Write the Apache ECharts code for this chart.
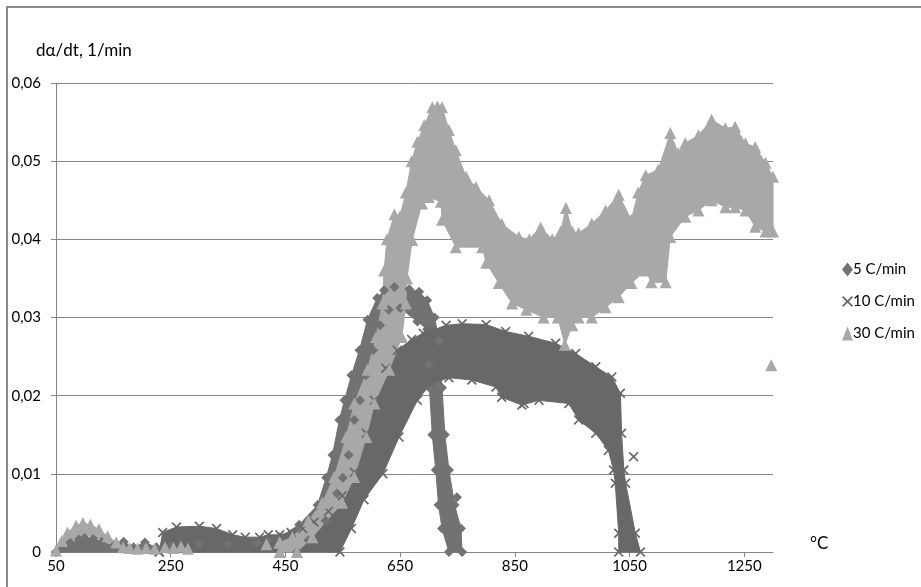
<!DOCTYPE html>
<html>
<head>
<meta charset="utf-8">
<script src="https://cdn.jsdelivr.net/npm/echarts@6/dist/echarts.min.js"></script>
<style>html,body{margin:0;padding:0;background:#fff}#c{width:921px;height:587px}</style>
</head>
<body>
<div id="c"></div>
<script>
// ---- data ----
const seriesNames = ['5 C/min', '10 C/min', '30 C/min'];
const xTicks = [50, 250, 450, 650, 850, 1050, 1250];
const yTicks = [0, 0.01, 0.02, 0.03, 0.04, 0.05, 0.06];

// 5 C/min : outline of the dense band of diamonds
const r5Upper = [[50,0],[62,0.0005],[75,0.0012],[90,0.0016],[100,0.0018],[115,0.0017],[130,0.0013],[150,0.0008],[168,0.0013],[185,0.0006],[205,0.0012],[225,0.0006],[250,0.0008],[300,0.0010],[350,0.0010],[400,0.0012],[420,0.0015],[440,0.0019],[474,0.0035],[506,0.0060],[521,0.0095],[532,0.0124],[544,0.0169],[553,0.0194],[565,0.0226],[579,0.0258],[593,0.0297],[610,0.0325],[622,0.0335],[640,0.0339],[666,0.0336],[683,0.0333],[697,0.0322],[710,0.0300],[718,0.0270],[723,0.0210],[728,0.0150],[735,0.0105],[745,0.0060],[756,0.0030],[758,0]];
const r5Lower = [[50,0],[470,0],[490,0.0015],[520,0.0040],[540,0.0075],[550,0.0095],[560,0.0124],[570,0.0169],[580,0.0194],[590,0.0226],[603,0.0258],[615,0.0290],[630,0.0310],[650,0.0312],[680,0.0295],[697,0.0285],[700,0.0240],[701,0.0210],[706,0.0150],[712,0.0105],[717,0.0060],[723,0.0030],[735,0]];
const r5Single = [[749,0.0070]];

// 10 C/min : outline of the dense band of crosses
const r10Upper = [[230,0],[236,0.0025],[260,0.0032],[300,0.0033],[330,0.0030],[358,0.0022],[380,0.0019],[405,0.0019],[420,0.0022],[440,0.0022],[460,0.0025],[480,0.0030],[500,0.0038],[525,0.0052],[549,0.0072],[570,0.0102],[591,0.0152],[605,0.0194],[625,0.0235],[645,0.0258],[670,0.0272],[690,0.0280],[700,0.0282],[730,0.0290],[758,0.0292],[800,0.0291],[834,0.0282],[874,0.0276],[921,0.0267],[956,0.0254],[991,0.0237],[1019,0.0224],[1034,0.0203],[1036,0.0152],[1040,0.0105],[1043,0.0088],[1060,0.0024],[1069,0]];
const r10Lower = [[230,0],[545,0],[565,0.0030],[587,0.0067],[620,0.0100],[648,0.0147],[680,0.0194],[703,0.0215],[735,0.0223],[775,0.0220],[817,0.0211],[827,0.0198],[862,0.0188],[892,0.0194],[944,0.0190],[961,0.0169],[991,0.0152],[1013,0.0130],[1022,0.0105],[1025,0.0088],[1031,0.0024],[1031,0]];
const r10Single = [[866,0.0190],[1057,0.0122]];

// 30 C/min : outline of the dense band of triangles
const r30HumpUpper = [[50,0.0002],[60,0.0014],[70,0.0025],[85,0.0034],[97,0.0037],[110,0.0035],[125,0.0029],[140,0.0020],[155,0.0012],[167,0.0006]];
const r30HumpLower = [[50,0],[58,0.0003],[75,0.0014],[97,0.0021],[115,0.0020],[135,0.0014],[150,0.0009],[167,0.0004]];
const r30Upper = [[440,0.0012],[462,0.0019],[490,0.0040],[514,0.0063],[535,0.0096],[556,0.0147],[570,0.0190],[593,0.0233],[608,0.0275],[619,0.0318],[622,0.0360],[627,0.0400],[640,0.0432],[650,0.0430],[660,0.0460],[670,0.0500],[680,0.0525],[692,0.0546],[706,0.0569],[715,0.0570],[723,0.0569],[735,0.0540],[747,0.0514],[765,0.0480],[782,0.0467],[805,0.0450],[827,0.0420],[857,0.0403],[875,0.0400],[895,0.0415],[915,0.0400],[930,0.0410],[939,0.0440],[950,0.0410],[961,0.0408],[984,0.0420],[1008,0.0437],[1031,0.0457],[1053,0.0425],[1065,0.0460],[1078,0.0482],[1100,0.0489],[1121,0.0536],[1135,0.0510],[1147,0.0523],[1170,0.0533],[1193,0.0553],[1217,0.0542],[1234,0.0544],[1252,0.0523],[1269,0.0518],[1287,0.0498],[1300,0.0480]];
const r30Lower = [[440,0],[470,0],[497,0.0019],[549,0.0063],[570,0.0096],[591,0.0147],[605,0.0190],[631,0.0233],[653,0.0275],[660,0.0318],[662,0.0350],[671,0.0399],[688,0.0446],[700,0.0454],[721,0.0448],[723,0.0425],[747,0.0390],[793,0.0390],[800,0.0370],[822,0.0344],[845,0.0318],[870,0.0310],[900,0.0300],[925,0.0300],[937,0.0265],[950,0.0290],[961,0.0300],[984,0.0300],[1008,0.0313],[1031,0.0326],[1053,0.0344],[1078,0.0360],[1088,0.0345],[1113,0.0345],[1121,0.0403],[1147,0.0429],[1170,0.0437],[1193,0.0450],[1217,0.0441],[1234,0.0441],[1252,0.0437],[1269,0.0416],[1287,0.0410],[1300,0.0410]];
const r30Single = [[178,0.0005],[192,0.0004],[207,0.0005],[222,0.0004],[240,0.0006],[255,0.0005],[268,0.0007],[280,0.0004],[417,0.0010],[440,0.0012],[1297,0.0239]];

// ---- styles ----
const colors = ['#727272', '#686868', '#a8a8a8'];
const FONT = 'Lato';
const crossPath = 'path://M1.2,0 L5,3.8 L8.8,0 L10,1.2 L6.2,5 L10,8.8 L8.8,10 L5,6.2 L1.2,10 L0,8.8 L3.8,5 L0,1.2 Z';

function band(name, upper, lower, color) {
  return {
    type: 'custom', name: name, silent: true, clip: false,
    data: [[upper[0][0], upper[0][1]]],
    renderItem: function (params, api) {
      const pts = upper.map(p => api.coord(p)).concat(lower.slice().reverse().map(p => api.coord(p)));
      return { type: 'polygon', shape: { points: pts }, style: { fill: color, stroke: color, lineWidth: 1 } };
    }
  };
}
function dots(name, symbol, size, pts, color) {
  return {
    type: 'scatter', name: name, symbol: symbol, symbolSize: size, clip: false,
    itemStyle: { color: color, opacity: 1 }, data: pts, silent: true
  };
}

const chart = echarts.init(document.getElementById('c'), null, { renderer: 'canvas' });
chart.setOption({
  animation: false,
  backgroundColor: '#fff',
  textStyle: { fontFamily: FONT },
  grid: { left: 56, right: 148, top: 83, bottom: 35 },
  legend: {
    orient: 'vertical', left: 837, top: 257, itemGap: 17, itemWidth: 11, itemHeight: 14,
    data: seriesNames.map(n => ({ name: n })),
    textStyle: { fontFamily: FONT, fontSize: 15, color: '#000', padding: [0, 0, 0, -5] },
    selectedMode: false
  },
  xAxis: {
    type: 'value', min: xTicks[0], max: 1300, interval: xTicks[1] - xTicks[0],
    axisLine: { show: true, onZero: false, lineStyle: { color: '#868686', width: 1 } },
    axisTick: { show: true, length: 5, lineStyle: { color: '#868686' } },
    axisLabel: { showMaxLabel: false, color: '#000', fontSize: 15, fontFamily: FONT, margin: 7, formatter: v => String(v) },
    splitLine: { show: false }
  },
  yAxis: {
    type: 'value', min: yTicks[0], max: yTicks[yTicks.length - 1], interval: yTicks[1] - yTicks[0],
    axisLine: { show: true, lineStyle: { color: '#868686', width: 1 } },
    axisTick: { show: true, length: 5, lineStyle: { color: '#868686' } },
    axisLabel: {
      color: '#000', fontSize: 15, fontFamily: FONT, margin: 15,
      formatter: v => (Math.abs(v) < 1e-9 ? '0' : v.toFixed(2).replace('.', ','))
    },
    splitLine: { show: true, lineStyle: { color: '#868686', width: 1 } }
  },
  graphic: [
    { type: 'rect', shape: { x: 7, y: 7, width: 960, height: 640 }, style: { fill: 'none', stroke: '#8a8a8a', lineWidth: 2 }, silent: true, z: 100 },
    { type: 'text', left: 36, top: 42, style: { text: 'dα/dt, 1/min', font: '17px Lato, "Noto Sans", sans-serif', fill: '#000' }, z: 100 },
    { type: 'text', left: 810, top: 535, style: { text: '°C', font: '17px Lato, "Noto Sans", sans-serif', fill: '#000' }, z: 100 }
  ],
  series: [
    band('b5', r5Upper, r5Lower, colors[0]),
    dots(seriesNames[0], 'diamond', 10, r5Upper.concat(r5Lower, r5Single), colors[0]),
    band('b10', r10Upper, r10Lower, colors[1]),
    dots(seriesNames[1], crossPath, 10, r10Upper.concat(r10Lower, r10Single), colors[1]),
    band('b30h', r30HumpUpper, r30HumpLower, colors[2]),
    band('b30', r30Upper, r30Lower, colors[2]),
    dots(seriesNames[2], 'triangle', 12, r30Upper.concat(r30Lower, r30HumpUpper, r30Single), colors[2])
  ]
});
</script>
</body>
</html>
